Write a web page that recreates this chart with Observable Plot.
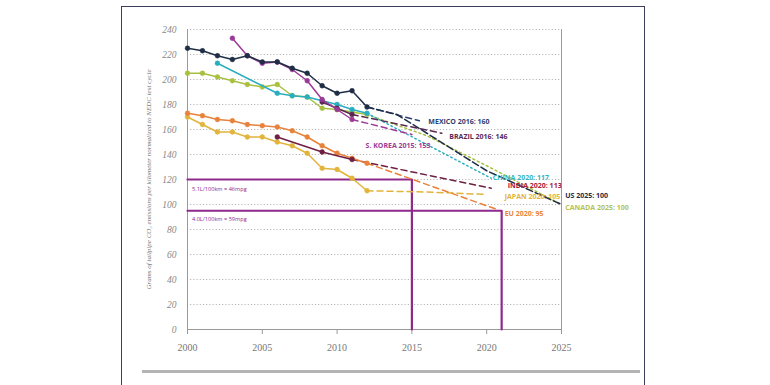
<!DOCTYPE html>
<html><head><meta charset="utf-8">
<script src="https://cdn.jsdelivr.net/npm/d3@7"></script>
<script src="https://cdn.jsdelivr.net/npm/@observablehq/plot@0.6"></script>
<style>
body{margin:0;background:#fff;}
#wrap{position:relative;width:770px;height:385px;overflow:hidden;background:#fff;}
#frame{position:absolute;left:121px;top:6px;width:524px;height:420px;border:1.5px solid #3d3d5c;box-sizing:border-box;}
#rule{position:absolute;left:142px;top:370px;width:498px;height:3px;background:#b4b4b4;}
#chart{position:absolute;left:0;top:0;}
</style></head><body>
<div id="wrap"><div id="frame"></div><div id="rule"></div><div id="chart"></div></div>
<script>
// ---- data ----
const xTicks = [2000, 2005, 2010, 2015, 2020, 2025];
const yTicks = [0, 20, 40, 60, 80, 100, 120, 140, 160, 180, 200, 220, 240];
const yLabel = "Grams of tailpipe CO₂ emissions per kilometer normalized to NEDC test cycle";

const usYears = [2000,2001,2002,2003,2004,2005,2006,2007,2008,2009,2010,2011,2012];
const usValues = [225,223,219,216,219,214,214,209,205,195,189,191,178];
const usProjYears = [2012,2014,2016,2018,2020,2025];
const usProjValues = [178,172,157,142,127,100];

const mexicoProjYears = [2012,2015.5];
const mexicoProjValues = [178,167];

const koreaYears = [2003,2004,2005,2006,2007,2008,2009,2010,2011];
const koreaValues = [233,219,213,214,208,199,184,176,168];
const koreaProjYears = [2011,2015];
const koreaProjValues = [168,156];

const brazilYears = [2009,2010,2011];
const brazilValues = [182,177,172];
const brazilProjYears = [2011,2017];
const brazilProjValues = [172,157];

const chinaYears = [2002,2006,2007,2008,2009,2010,2011,2012];
const chinaValues = [213,189,187,186,183,180,176,173];
const chinaProjYears = [2012,2020.3];
const chinaProjValues = [173,121];

const canadaYears = [2000,2001,2002,2003,2004,2005,2006,2007,2008,2009,2010,2011,2012];
const canadaValues = [205,205,202,199,196,194,196,187,186,177,176,174,172];
const canadaProjYears = [2012,2016,2020,2025];
const canadaProjValues = [172,155,131,100];

const euYears = [2000,2001,2002,2003,2004,2005,2006,2007,2008,2009,2010,2011,2012];
const euValues = [173,171,168,167,164,163,162,159,154,147,141,137,133];
const euProjYears = [2012,2020.7];
const euProjValues = [133,96];

const japanYears = [2000,2001,2002,2003,2004,2005,2006,2007,2008,2009,2010,2011,2012];
const japanValues = [170,164,158,158,154,154,150,147,141,129,128,121,111];
const japanProjYears = [2012,2016,2020];
const japanProjValues = [111,110,108];

const indiaYears = [2006,2009,2011];
const indiaValues = [154,142,136];
const indiaProjYears = [2011,2020.3];
const indiaProjValues = [136,113];

const targetYears = [2015, 2021];
const targetValues = [120, 95];
const targetTexts = ["5.1L/100km = 46mpg", "4.0L/100km = 59mpg"];
const targetTextValues = [112, 88];

const labelTexts = ["MEXICO 2016: 160","BRAZIL 2016: 146","S. KOREA 2015: 153","CHINA 2020: 117","INDIA 2020: 113","JAPAN 2020: 105","US 2025: 100","CANADA 2025: 100","EU 2020: 95"];
const labelYears = [2016.1, 2017.5, 2011.9, 2020.4, 2021.4, 2021.2, 2025.25, 2025.25, 2021.2];
const labelValues = [166, 154.6, 147.4, 121.5, 114.8, 106.4, 107.4, 97.8, 92.6];
const labelColors = ["#2d3f70","#5a2a55","#9a3c98","#3ab4c4","#a3203e","#e2b43c","#1e2c48","#b4c256","#e8863c"];

// ---- series styling ----
const series = [
  {c:"#e2b43c", hx:japanYears, hy:japanValues, px:japanProjYears, py:japanProjValues, dash:"6,4"},
  {c:"#e8823a", hx:euYears, hy:euValues, px:euProjYears, py:euProjValues, dash:"6,4"},
  {c:"#6e1f42", hx:indiaYears, hy:indiaValues, px:indiaProjYears, py:indiaProjValues, dash:"6,4"},
  {c:"#a8c040", hx:canadaYears, hy:canadaValues, px:canadaProjYears, py:canadaProjValues, dash:"2,3"},
  {c:"#2aaebf", hx:chinaYears, hy:chinaValues, px:chinaProjYears, py:chinaProjValues, dash:"1.5,3"},
  {c:"#5a2752", hx:brazilYears, hy:brazilValues, px:brazilProjYears, py:brazilProjValues, dash:"6,4"},
  {c:"#9a3a98", hx:koreaYears, hy:koreaValues, px:koreaProjYears, py:koreaProjValues, dash:"6,4"},
  {c:"#2d3f70", hx:[], hy:[], px:mexicoProjYears, py:mexicoProjValues, dash:"6,4"},
  {c:"#1f2e45", hx:usYears, hy:usValues, px:usProjYears, py:usProjValues, dash:"7,3"}
];

const targetRows = [];
targetYears.forEach((yr, i) => {
  targetRows.push({id:i, x:2000, y:targetValues[i]});
  targetRows.push({id:i, x:yr, y:targetValues[i]});
  targetRows.push({id:i, x:yr, y:0});
});
const targetLabelRows = targetTexts.map((t, i) => ({x:2000.3, y:targetTextValues[i], t}));
const labelRows = labelTexts.map((t, i) => ({x:labelYears[i], y:labelValues[i], t, c:labelColors[i]}));

const marks = [
  Plot.gridY(yTicks.filter(d => d > 0), {stroke:"#a8a8a8", strokeOpacity:1, strokeDasharray:"1,2.2", strokeWidth:1}),
  Plot.ruleY([0], {stroke:"#9a9a9a"}),
  Plot.ruleX([2000], {stroke:"#9a9a9a"}),
  Plot.ruleX([2025], {stroke:"#9a9a9a"}),
  Plot.axisX(xTicks, {tickSize:5, tickPadding:9, fontSize:10, stroke:"#999", fill:"#777", tickFormat:d => String(d), label:null}),
  Plot.axisY(yTicks, {tickSize:0, tickPadding:11, fontSize:9.5, fontStyle:"italic", fill:"#888", label:null}),
  Plot.text([yLabel], {frameAnchor:"left", textAnchor:"middle", rotate:-90, dx:-39, fontSize:7, fontStyle:"italic", fill:"#777"}),
  Plot.line(targetRows, {x:"x", y:"y", z:"id", stroke:"#8e2a8c", strokeWidth:2.2}),
  Plot.text(targetLabelRows, {x:"x", y:"y", text:"t", textAnchor:"start", fontSize:5.6, fill:"#8e2a8c", fontFamily:"Open Sans"})
];

series.forEach(s => {
  const proj = s.px.map((x, i) => ({x, y:s.py[i]}));
  marks.push(Plot.line(proj, {x:"x", y:"y", stroke:s.c, strokeWidth:1.5, strokeDasharray:s.dash}));
});
series.forEach(s => {
  const hist = s.hx.map((x, i) => ({x, y:s.hy[i]}));
  if (hist.length) {
    marks.push(Plot.line(hist, {x:"x", y:"y", stroke:s.c, strokeWidth:1.5}));
    marks.push(Plot.dot(hist, {x:"x", y:"y", r:2.4, fill:s.c, stroke:s.c, strokeWidth:0.5}));
  }
});
marks.push(Plot.text(labelRows, {x:"x", y:"y", text:"t", fill:"c", textAnchor:"start", fontSize:7, fontWeight:700, fontFamily:"Open Sans"}));

const chart = Plot.plot({
  width:770, height:385,
  marginLeft:187, marginRight:209, marginTop:29, marginBottom:56,
  x:{domain:[2000,2025]},
  y:{domain:[0,240]},
  color:{type:"identity"},
  style:{fontFamily:"'Liberation Serif', serif", background:"transparent"},
  marks
});
document.getElementById("chart").appendChild(chart);
</script>
</body></html>
